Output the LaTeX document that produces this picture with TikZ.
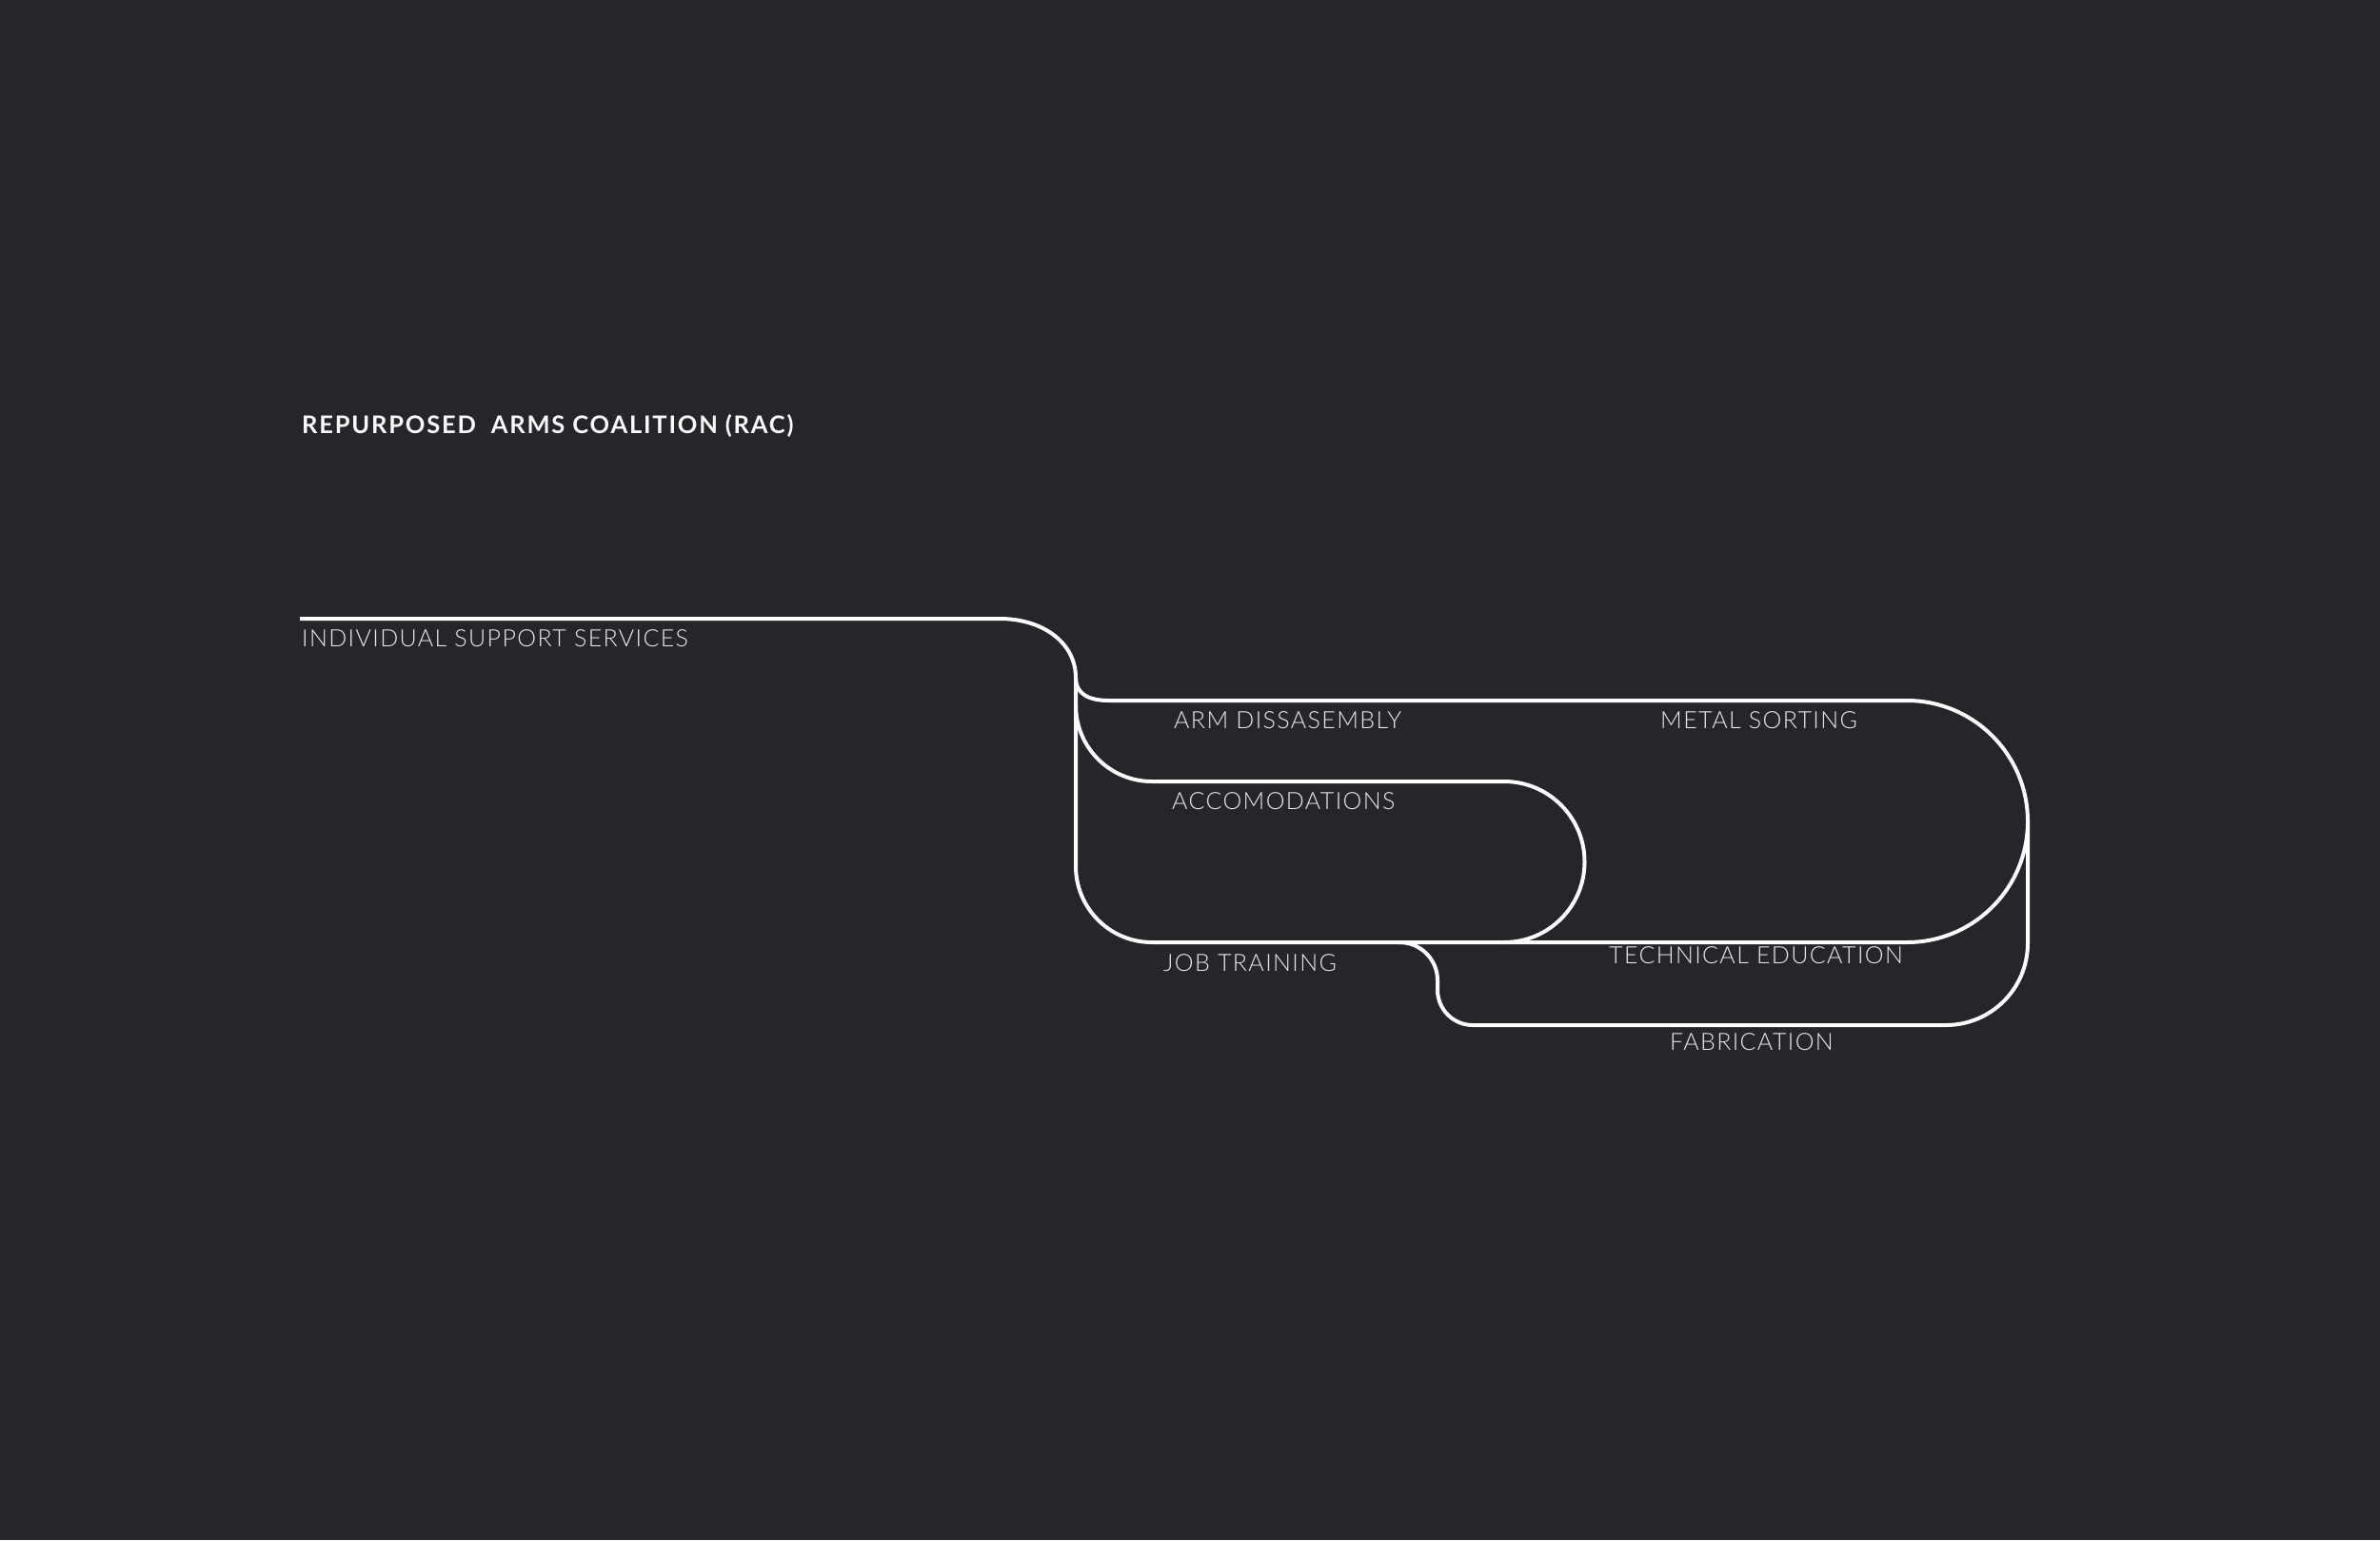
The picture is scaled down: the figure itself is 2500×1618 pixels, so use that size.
\documentclass[tikz,border=0pt]{standalone}
\usepackage{fontspec}
\newfontfamily\lightfont[LetterSpace=5.5]{Lato Light}
\newfontfamily\titlefont[LetterSpace=7]{Lato Bold}
\definecolor{bg}{RGB}{40,37,42}
\definecolor{ink}{RGB}{252,252,252}
\definecolor{labink}{RGB}{232,232,234}
\begin{document}
\begin{tikzpicture}[x=1pt,y=1pt,
  flow/.style={draw=ink, line width=4pt, line join=round},
  lab/.style={anchor=base west, inner sep=0pt, text=labink, font=\lightfont\fontsize{25}{30}\selectfont},
  ttl/.style={anchor=base west, inner sep=0pt, text=ink, font=\titlefont\fontsize{25.5}{30}\selectfont}]
\fill[bg] (0,0) rectangle (2500,-1618);
\useasboundingbox (0,0) rectangle (2500,-1618);
% key points
\coordinate (start) at (315,-650);
\coordinate (bend) at (1050,-650);
\coordinate (split) at (1130,-712);
\coordinate (armL) at (1165,-736);
\coordinate (msTop) at (2003,-736);
\coordinate (msBot) at (2003,-990);
\coordinate (vDown) at (1130,-910);
\coordinate (accOff) at (1130,-741);
\coordinate (accR) at (1580,-821);
\coordinate (fabOff) at (1470,-990);
\coordinate (fabMid) at (1510,-1040);
\coordinate (fabR) at (2044,-1077);
\coordinate (fabUp) at (2130,-863);
% main line, arm dissasembly and metal sorting loop
\draw[flow] (start) -- (bend) .. controls (1095,-650) and (1130,-675) .. (split)
  .. controls (1130,-730) and (1145,-736) .. (armL) -- (msTop)
  arc[start angle=90, end angle=-90, radius=127];
% vertical trunk, job training and technical education
\draw[flow] (split) -- (vDown) arc[start angle=180, end angle=270, radius=80] -- (msBot);
% accomodations loop
\draw[flow] (accOff) arc[start angle=180, end angle=270, radius=80] -- (accR)
  arc[start angle=90, end angle=-90, radius=84.5];
% fabrication loop
\draw[flow] (fabOff) arc[start angle=90, end angle=0, radius=40] -- (fabMid)
  arc[start angle=180, end angle=270, radius=37] -- (fabR)
  arc[start angle=270, end angle=360, radius=86] -- (fabUp);
% labels
\node[ttl] (title) at (317,-455) {REPURPOSED\ \ ARMS COALITION (RAC)};
\node[lab] (iss) at (317,-679) {INDIVIDUAL SUPPORT SERVICES};
\node[lab] (arm) at (1233,-765) {ARM DISSASEMBLY};
\node[lab] (metal) at (1744,-765) {METAL SORTING};
\node[lab] (acc) at (1231,-850) {ACCOMODATIONS};
\node[lab] (job) at (1222,-1020) {JOB TRAINING};
\node[lab] (tech) at (1690,-1012) {TECHNICAL EDUCATION};
\node[lab] (fab) at (1754,-1103) {FABRICATION};
\end{tikzpicture}
\end{document}
